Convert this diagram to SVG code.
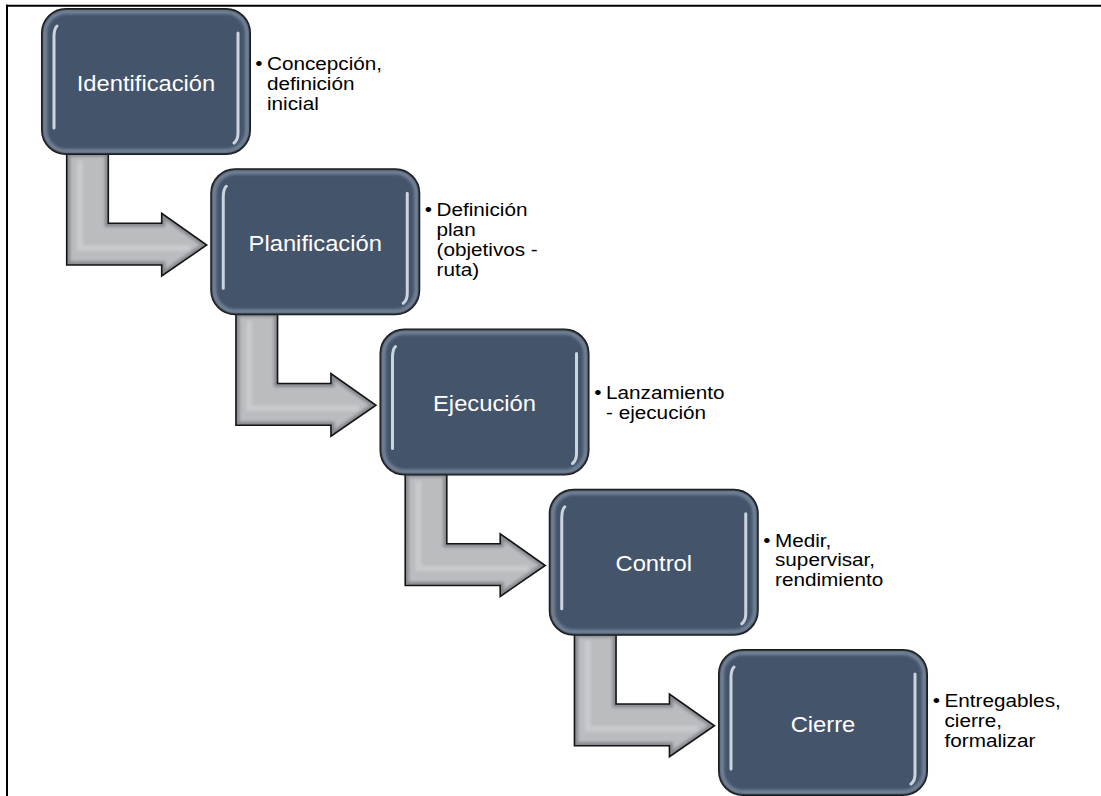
<svg xmlns="http://www.w3.org/2000/svg" width="1101" height="796" viewBox="0 0 1101 796">
<defs>
<style>
.box{fill:#44546a;stroke:#0d0d0d;stroke-width:2}
.glow{fill:none;stroke:#8796ab;stroke-width:4;opacity:0.75;filter:url(#blur)}
.hl{fill:none;stroke:#e4ebf3;stroke-width:3;stroke-linecap:round;opacity:0.85}
.lbl{font-family:"Liberation Sans",Arial,sans-serif;font-size:22px;fill:#ffffff;text-anchor:middle}
.bul{font-family:"Liberation Sans",Arial,sans-serif;font-size:18.5px;fill:#000000}
.arrowfill{fill:#babcbf}
.arrowshade{fill:none;stroke:#70747b;stroke-width:7;opacity:0.7;filter:url(#blur)}
.arrowline{fill:none;stroke:#141414;stroke-width:1.6;stroke-linejoin:miter}
.frame{stroke:#000;stroke-width:2;fill:none}
</style>
<filter id="blur" x="-10%" y="-10%" width="120%" height="120%"><feGaussianBlur stdDeviation="1.8"/></filter>
<path id="arrowPath" d="M66.7,153 L108.3,153 L108.3,223.3 L161.7,223.3 L161.7,213.3 L206.7,245 L161.7,276 L161.7,265 L66.7,265 Z"/>
<clipPath id="arrowClip"><use href="#arrowPath"/></clipPath>
<g id="arrowShape">
<use href="#arrowPath" class="arrowfill"/>
<g clip-path="url(#arrowClip)">
<use href="#arrowPath" class="arrowshade"/>
<path d="M80,160 L80,248 L190,248" fill="none" stroke="#d2d4d7" stroke-width="6" opacity="0.6" filter="url(#blur)"/>
</g>
<use href="#arrowPath" class="arrowline"/>
</g>
<g id="boxShape">
<rect class="box" x="0" y="0" width="208" height="145" rx="24" ry="24"/>
<rect class="glow" x="3" y="3" width="202" height="139" rx="21" ry="21"/>
<path class="hl" d="M15,17 Q12,20 12,28 L12,119"/>
<path class="hl" d="M196,24 L196,124 Q196,131 192,134"/>
</g>
</defs>
<rect x="0" y="0" width="1101" height="796" fill="#ffffff"/>
<g id="frame">
<line class="frame" x1="6" y1="5.7" x2="1101" y2="5.7"/>
<line class="frame" x1="7" y1="4.7" x2="7" y2="796"/>
</g>
<g id="connectors">
<use href="#arrowShape"/>
<use href="#arrowShape" transform="translate(169.25,160.25)"/>
<use href="#arrowShape" transform="translate(338.5,320.5)"/>
<use href="#arrowShape" transform="translate(507.75,480.75)"/>
</g>
<g id="node-identificacion">
<use href="#boxShape" transform="translate(42,9)"/>
<text class="lbl" transform="translate(146,90.5) scale(1.08,1)">Identificación</text>
<text class="bul" transform="translate(267,70) scale(1.12,1)"><tspan x="-10.5" y="0">•</tspan><tspan x="0" y="0">Concepción,</tspan><tspan x="0" y="20">definición</tspan><tspan x="0" y="40">inicial</tspan></text>
</g>
<g id="node-planificacion">
<use href="#boxShape" transform="translate(211.25,169.25)"/>
<text class="lbl" transform="translate(315.25,250.75) scale(1.08,1)">Planificación</text>
<text class="bul" transform="translate(436.5,216) scale(1.12,1)"><tspan x="-10.5" y="0">•</tspan><tspan x="0" y="0">Definición</tspan><tspan x="0" y="20">plan</tspan><tspan x="0" y="40">(objetivos -</tspan><tspan x="0" y="60">ruta)</tspan></text>
</g>
<g id="node-ejecucion">
<use href="#boxShape" transform="translate(380.5,329.5)"/>
<text class="lbl" transform="translate(484.5,411) scale(1.08,1)">Ejecución</text>
<text class="bul" transform="translate(606,399) scale(1.12,1)"><tspan x="-10.5" y="0">•</tspan><tspan x="0" y="0">Lanzamiento</tspan><tspan x="0" y="20">- ejecución</tspan></text>
</g>
<g id="node-control">
<use href="#boxShape" transform="translate(549.75,489.75)"/>
<text class="lbl" transform="translate(653.75,571) scale(1.08,1)">Control</text>
<text class="bul" transform="translate(775,546.5) scale(1.12,1)"><tspan x="-10.5" y="0">•</tspan><tspan x="0" y="0">Medir,</tspan><tspan x="0" y="20">supervisar,</tspan><tspan x="0" y="40">rendimiento</tspan></text>
</g>
<g id="node-cierre">
<use href="#boxShape" transform="translate(719,650)"/>
<text class="lbl" transform="translate(823,731.5) scale(1.08,1)">Cierre</text>
<text class="bul" transform="translate(944.5,707) scale(1.12,1)"><tspan x="-10.5" y="0">•</tspan><tspan x="0" y="0">Entregables,</tspan><tspan x="0" y="20">cierre,</tspan><tspan x="0" y="40">formalizar</tspan></text>
</g>
</svg>
